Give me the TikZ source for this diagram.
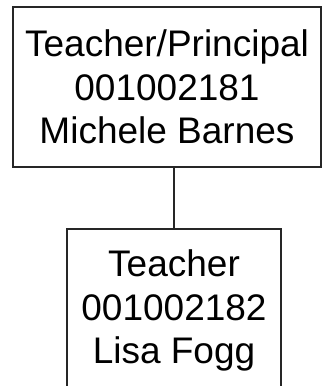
\documentclass[tikz,border=0pt]{standalone}
\usepackage{fontspec}
\setmainfont{Liberation Sans}
\begin{document}
\begin{tikzpicture}[x=1pt,y=1pt,
  box/.style={draw=black!85, line width=1.1pt, inner sep=0pt, align=center,
    font=\fontsize{37}{43.5}\selectfont},
  link/.style={draw=black!85, line width=1.2pt}]
\useasboundingbox (0,0) rectangle (322,-386);
\node[box, minimum width=308pt, minimum height=160pt] (top) at (167,-87)
  {Teacher/Principal\\001002181\\Michele Barnes};
\node[box, minimum width=214pt, minimum height=163pt] (bot) at (174,-310.5)
  {Teacher\\001002182\\Lisa Fogg};
\draw[link] (bot.north) -- (top.south -| bot.north);
\end{tikzpicture}
\end{document}
